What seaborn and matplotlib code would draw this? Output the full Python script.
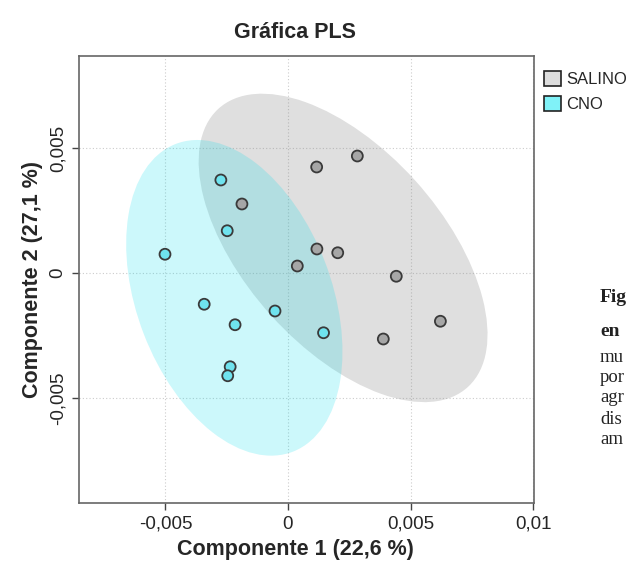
import numpy as np
import pandas as pd
import seaborn as sns
import matplotlib
matplotlib.use("Agg")
import matplotlib.pyplot as plt
from matplotlib.patches import Ellipse, Patch

# PLS scores per group
salino_c1 = [-0.00188, 0.00117, 0.00283, 0.00118, 0.00203, 0.00038, 0.00442, 0.00622, 0.00389]
salino_c2 = [0.00276, 0.00424, 0.00468, 0.00096, 0.00081, 0.00028, -0.00013, -0.00193, -0.00264]
cno_c1 = [-0.00274, -0.00248, -0.00502, -0.00342, -0.00216, -0.00053, 0.00145, -0.00236, -0.00246]
cno_c2 = [0.00372, 0.00169, 0.00075, -0.00125, -0.00207, -0.00152, -0.00239, -0.00375, -0.00411]

groups = ["SALINO", "CNO"]
x_ticks = [-0.005, 0, 0.005, 0.01]
x_tick_labels = ["-0,005", "0", "0,005", "0,01"]
y_ticks = [-0.005, 0, 0.005]
y_tick_labels = ["-0,005", "0", "0,005"]

df = pd.DataFrame({
    "c1": salino_c1 + cno_c1,
    "c2": salino_c2 + cno_c2,
    "grupo": ["SALINO"] * len(salino_c1) + ["CNO"] * len(cno_c1),
})

ellipse_colors = {"SALINO": ((140/255, 140/255, 140/255), 0.28),
                  "CNO": ((0/255, 220/255, 235/255), 0.20)}
point_colors = {"SALINO": "#a6a6a6", "CNO": "#6fe3ee"}
legend_colors = {"SALINO": "#dddddd", "CNO": "#80f2f8"}

sns.set_theme(style="white")
plt.rcParams["font.family"] = ["Liberation Sans", "DejaVu Sans"]

fig = plt.figure(figsize=(6.28, 5.76), dpi=100)
ax = fig.add_axes([0.1258, 0.1267, 0.7245, 0.7761])

# 95% confidence ellipses from each group's covariance
chi2_95 = 5.991
for g in groups:
    sub = df[df["grupo"] == g]
    pts = sub[["c1", "c2"]].to_numpy()
    mu = pts.mean(axis=0)
    cov = np.cov(pts, rowvar=False)
    vals, vecs = np.linalg.eigh(cov)
    order = vals.argsort()[::-1]
    vals, vecs = vals[order], vecs[:, order]
    angle = np.degrees(np.arctan2(vecs[1, 0], vecs[0, 0]))
    w, h = 2 * np.sqrt(chi2_95 * vals)
    col, a = ellipse_colors[g]
    ax.add_patch(Ellipse(mu, w, h, angle=angle, facecolor=col, alpha=a,
                         edgecolor="none", zorder=1))

sns.scatterplot(data=df, x="c1", y="c2", hue="grupo", palette=point_colors,
                s=62, edgecolor="#3a3a3a", linewidth=1.3, legend=False,
                ax=ax, zorder=3)

ax.set_xlim(-0.00853, 0.01004)
ax.set_ylim(-0.0092, 0.00868)
ax.set_xticks(x_ticks)
ax.set_xticklabels(x_tick_labels, fontsize=13.5)
ax.set_yticks(y_ticks)
ax.set_yticklabels(y_tick_labels, fontsize=13.5, rotation=90, va="center")
ax.tick_params(axis="both", which="both", direction="out", length=5,
               width=1, color="#444444", left=True, bottom=True, pad=4)
ax.grid(True, linestyle=(0, (1, 2)), color="#cccccc", linewidth=0.8)
ax.set_axisbelow(True)
for sp in ax.spines.values():
    sp.set_color("#666666")
    sp.set_linewidth(1.2)

ax.set_xlabel("Componente 1 (22,6 %)", fontsize=15.5, fontweight="bold", labelpad=5, x=0.475)
ax.set_ylabel("Componente 2 (27,1 %)", fontsize=15.5, fontweight="bold", labelpad=5)
ax.set_title("Gráfica PLS", fontsize=15.5, fontweight="bold", pad=13, x=0.475)

handles = [Patch(facecolor=legend_colors[g], edgecolor="#222222", linewidth=1.2, label=g)
           for g in groups]
fig.legend(handles=handles, loc="upper left", bbox_to_anchor=(0.866, 0.877),
           frameon=False, fontsize=12, handlelength=1.0, handleheight=1.0,
           handletextpad=0.35, labelspacing=0.55, borderaxespad=0, borderpad=0)

# caption running in from the page on the right
cap_lines = [("Fig", "bold", 298, 14), ("en", "bold", 332, 14), ("mu", "normal", 357, 13.5),
             ("por", "normal", 378, 13.5), ("agr", "normal", 398, 13.5), ("dis", "normal", 419, 13.5),
             ("am", "normal", 440, 13.5)]
for txt, wt, py, fs in cap_lines:
    fig.text(600 / 628, 1 - py / 576, txt, fontsize=fs, fontweight=wt,
             family=["Liberation Serif", "DejaVu Serif"], va="center", ha="left",
             color="#222222")

fig.savefig("out.png", dpi=100)
